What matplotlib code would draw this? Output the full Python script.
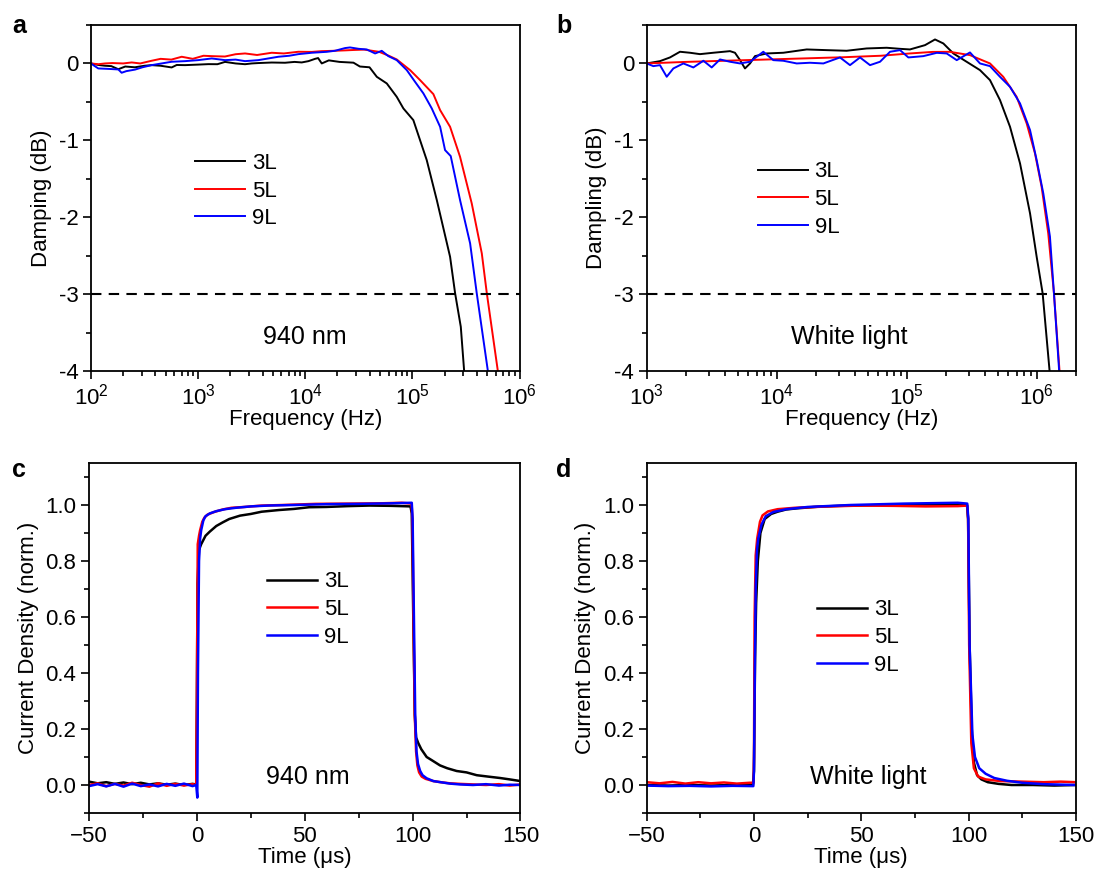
import numpy as np
import matplotlib
matplotlib.use("Agg")
import matplotlib.pyplot as plt
import matplotlib.transforms as mtransforms
from matplotlib.ticker import (MultipleLocator, FixedLocator, LogLocator,
                               LogFormatterMathtext, FuncFormatter, NullFormatter)

plt.rcParams['font.family'] = ['Liberation Sans', 'DejaVu Sans']
plt.rcParams['mathtext.fontset'] = 'custom'
plt.rcParams['mathtext.rm'] = 'Liberation Sans'
plt.rcParams['mathtext.it'] = 'Liberation Sans:italic'
plt.rcParams['mathtext.bf'] = 'Liberation Sans:bold'

# ---------------- data ----------------
series_labels = ["3L", "5L", "9L"]
series_colors = ["#000000", "#ff0000", "#0000ff"]

# Panel a: 940 nm, log10(frequency / Hz) and damping (dB)
a_3L_logf = [2.0, 2.07, 2.13, 2.19, 2.255, 2.32, 2.41, 2.5, 2.566, 2.65, 2.753, 2.8, 2.878, 3.0,
             3.096, 3.18, 3.251, 3.35, 3.438, 3.5, 3.562, 3.687, 3.811, 3.9, 3.967, 4.03, 4.092,
             4.12, 4.154, 4.22, 4.32, 4.45, 4.51, 4.6, 4.668, 4.761, 4.854, 4.916, 5.009, 5.134,
             5.228, 5.352, 5.399, 5.452, 5.486]
a_3L_db = [0.0, -0.02, -0.03, -0.035, -0.075, -0.04, -0.05, -0.03, -0.022, -0.03, -0.052, -0.02,
           -0.022, -0.015, -0.009, -0.01, 0.02, 0.0, -0.01, 0.0, 0.005, 0.012, 0.009, 0.02,
           0.013, 0.03, 0.06, 0.07, 0.0, 0.04, 0.02, 0.01, -0.04, -0.05, -0.174, -0.26, -0.434,
           -0.585, -0.737, -1.257, -1.777, -2.515, -2.99, -3.425, -4.05]

a_5L_logf = [2.0, 2.068, 2.131, 2.2, 2.3, 2.38, 2.46, 2.566, 2.65, 2.75, 2.847, 2.95, 3.05, 3.127,
             3.25, 3.35, 3.438, 3.55, 3.687, 3.8, 3.936, 4.061, 4.154, 4.278, 4.372, 4.45, 4.55,
             4.69, 4.78, 4.854, 4.979, 5.072, 5.196, 5.259, 5.352, 5.445, 5.554, 5.648, 5.695,
             5.803]
a_5L_db = [0.0, -0.01, 0.0, 0.005, 0.0, 0.013, 0.0, 0.035, 0.06, 0.05, 0.087, 0.06, 0.1, 0.095,
           0.09, 0.12, 0.13, 0.11, 0.139, 0.13, 0.152, 0.15, 0.16, 0.165, 0.17, 0.175, 0.18,
           0.151, 0.1, 0.052, -0.087, -0.217, -0.399, -0.607, -0.824, -1.214, -1.82, -2.47,
           -2.99, -4.05]

a_9L_logf = [2.0, 2.03, 2.068, 2.15, 2.255, 2.286, 2.33, 2.411, 2.48, 2.566, 2.66, 2.753, 2.878,
             3.0, 3.127, 3.251, 3.35, 3.438, 3.562, 3.749, 3.85, 3.936, 4.0, 4.061, 4.2, 4.278,
             4.372, 4.418, 4.5, 4.574, 4.652, 4.714, 4.776, 4.854, 4.948, 5.025, 5.103, 5.181,
             5.259, 5.305, 5.358, 5.445, 5.539, 5.601, 5.71]
a_9L_db = [0.0, -0.03, -0.065, -0.07, -0.078, -0.121, -0.1, -0.08, -0.05, -0.022, 0.0, 0.022, 0.03,
           0.043, 0.065, 0.043, 0.05, 0.03, 0.043, 0.087, 0.1, 0.121, 0.13, 0.139, 0.151, 0.165,
           0.2, 0.208, 0.19, 0.182, 0.13, 0.164, 0.095, 0.043, -0.087, -0.239, -0.39, -0.585,
           -0.824, -1.127, -1.205, -1.777, -2.34, -2.99, -4.05]

# Panel b: white light
b_3L_logf = [3.0, 3.102, 3.179, 3.256, 3.333, 3.41, 3.512, 3.641, 3.679, 3.718, 3.756, 3.795,
             3.833, 3.923, 4.051, 4.231, 4.385, 4.538, 4.692, 4.846, 4.95, 5.025, 5.141, 5.218,
             5.282, 5.359, 5.462, 5.564, 5.641, 5.718, 5.795, 5.872, 5.949, 6.0, 6.046, 6.102]
b_3L_db = [0.0, 0.03, 0.078, 0.152, 0.139, 0.121, 0.139, 0.16, 0.139, 0.043, -0.065, 0.0, 0.095,
           0.13, 0.139, 0.182, 0.173, 0.165, 0.195, 0.204, 0.19, 0.182, 0.238, 0.312, 0.26, 0.13,
           0.021, -0.087, -0.217, -0.477, -0.824, -1.3, -1.95, -2.515, -2.99, -4.05]

b_5L_logf = [3.0, 3.3, 3.6, 3.9, 4.2, 4.5, 4.8, 5.025, 5.2, 5.333, 5.487, 5.641, 5.743, 5.846,
             5.923, 5.987, 6.038, 6.089, 6.133, 6.178]
b_5L_db = [0.0, 0.02, 0.035, 0.05, 0.065, 0.08, 0.1, 0.13, 0.15, 0.151, 0.108, 0.0, -0.174,
           -0.434, -0.78, -1.17, -1.605, -2.21, -2.99, -4.05]

b_9L_logf = [3.0, 3.051, 3.102, 3.154, 3.205, 3.282, 3.359, 3.436, 3.5, 3.564, 3.641, 3.718,
             3.795, 3.897, 3.974, 4.051, 4.154, 4.256, 4.359, 4.487, 4.564, 4.641, 4.718, 4.795,
             4.872, 4.949, 5.013, 5.128, 5.231, 5.308, 5.385, 5.487, 5.564, 5.641, 5.718, 5.795,
             5.872, 5.949, 6.0, 6.051, 6.102, 6.133, 6.175]
b_9L_db = [0.0, -0.035, -0.022, -0.173, -0.065, 0.0, -0.052, 0.035, -0.052, 0.052, 0.022, 0.0,
           0.022, 0.152, 0.043, 0.035, 0.0, 0.009, 0.0, 0.078, -0.022, 0.078, -0.022, 0.022,
           0.152, 0.173, 0.078, 0.095, 0.138, 0.13, 0.043, 0.143, 0.0, -0.035, -0.174, -0.304,
           -0.52, -0.867, -1.257, -1.69, -2.25, -2.99, -4.05]

# Panel c: 940 nm transient, time (us) and normalized current density
c_3L_t = [-50, -46, -42, -38, -34, -30, -26, -22, -18, -14, -10, -6, -2, -0.3, 0.0, 0.3, 1.0,
          2.0, 3.0, 4.0, 6.0, 9.0, 12, 15, 20, 25, 30, 38, 45, 52, 60, 70, 80, 90, 99.0, 99.6,
          100.3, 101.0, 101.6, 102.6, 104, 106.5, 109, 112.7, 116, 120.4, 125, 129.7, 135,
          140.5, 145, 150]
c_3L_y = [0.012, 0.006, 0.01, 0.004, 0.009, 0.003, 0.008, 0.002, 0.006, 0.001, 0.005, 0.0,
          0.004, 0.002, 0.3, 0.72, 0.84, 0.86, 0.875, 0.89, 0.905, 0.925, 0.938, 0.95, 0.962,
          0.968, 0.976, 0.982, 0.986, 0.992, 0.993, 0.996, 0.998, 0.997, 0.995, 0.97, 0.6,
          0.25, 0.17, 0.15, 0.128, 0.1, 0.088, 0.07, 0.06, 0.05, 0.045, 0.035, 0.03, 0.025,
          0.02, 0.014]

c_5L_t = [-50, -46, -42, -38, -34, -30, -26, -22, -18, -14, -10, -6, -2, -0.3, 0.0, 0.4, 1.0,
          1.5, 2.5, 3.5, 5, 8, 12, 16, 22, 30, 40, 55, 70, 85, 95, 99.5, 99.9, 100.4, 101.0,
          101.6, 102.2, 103, 104.2, 106, 109.6, 113, 117.3, 122, 128, 134, 140, 145, 150]
c_5L_y = [0.0, 0.006, -0.004, 0.004, -0.002, 0.008, 0.0, -0.006, 0.006, -0.003, 0.004, -0.002,
          0.003, 0.0, 0.3, 0.86, 0.89, 0.91, 0.94, 0.955, 0.966, 0.975, 0.984, 0.99, 0.993,
          0.998, 1.0, 1.004, 1.005, 1.006, 1.008, 1.005, 0.95, 0.6, 0.25, 0.12, 0.07, 0.045,
          0.03, 0.022, 0.014, 0.01, 0.006, 0.004, 0.002, 0.0, 0.003, -0.002, 0.002]

c_9L_t = [-50, -46, -42, -38, -34, -30, -26, -22, -18, -14, -10, -6, -2, -0.3, 0.2, 0.5, 1.0,
          1.5, 2.0, 3.0, 4.0, 6.0, 9.0, 13, 18, 25, 33, 45, 60, 75, 90, 99.6, 100.0, 100.6,
          101.2, 101.8, 102.5, 103.5, 104.6, 106.5, 109.6, 113, 117.3, 122, 128, 134, 140, 145,
          150]
c_9L_y = [-0.004, 0.003, -0.005, 0.004, -0.006, 0.005, -0.004, 0.002, -0.005, 0.004, -0.003,
          0.005, -0.004, 0.0, -0.045, 0.4, 0.8, 0.88, 0.91, 0.945, 0.96, 0.97, 0.978, 0.985,
          0.99, 0.995, 0.998, 1.0, 1.003, 1.004, 1.006, 1.008, 0.95, 0.6, 0.25, 0.12, 0.075,
          0.05, 0.035, 0.024, 0.014, 0.01, 0.005, 0.002, 0.0, 0.003, -0.002, 0.001, 0.0]

# Panel d: white light transient
d_3L_t = [-50, -40, -30, -20, -10, -0.5, 0.0, 0.5, 1.0, 1.8, 3.0, 5.0, 8.0, 11, 15, 20, 30, 40,
          60, 80, 99.3, 99.8, 100.5, 101.5, 102.5, 104, 106, 109, 114, 120, 130, 140, 150]
d_3L_y = [0.0, -0.002, 0.0, -0.002, 0.0, 0.0, 0.05, 0.45, 0.65, 0.8, 0.9, 0.95, 0.968, 0.976,
          0.984, 0.988, 0.994, 0.997, 1.0, 1.002, 1.0, 0.95, 0.5, 0.2, 0.08, 0.035, 0.02, 0.01,
          0.004, 0.0, 0.0, -0.002, 0.0]

d_5L_t = [-50, -44, -38, -32, -26, -20, -14, -8, -2, -0.2, 0.0, 0.3, 0.8, 1.5, 2.8, 4.0, 6.5,
          11, 19, 35, 50, 65, 80, 95, 99.4, 99.8, 100.3, 101.3, 102.5, 104.5, 108, 115, 125,
          135, 143, 150]
d_5L_y = [0.01, 0.006, 0.011, 0.005, 0.01, 0.006, 0.009, 0.005, 0.008, 0.008, 0.1, 0.6, 0.82,
          0.88, 0.94, 0.963, 0.977, 0.985, 0.99, 0.995, 0.998, 0.997, 0.995, 0.996, 0.998,
          0.95, 0.5, 0.15, 0.06, 0.03, 0.02, 0.014, 0.012, 0.01, 0.012, 0.01]

d_9L_t = [-50, -40, -30, -20, -10, -0.3, 0.0, 0.4, 0.8, 1.4, 2.0, 3.5, 5.5, 9, 15, 25, 45, 70,
          95, 99.4, 99.9, 100.5, 101.8, 103, 105, 108, 112, 118, 125, 135, 150]
d_9L_y = [-0.002, -0.004, -0.003, -0.005, -0.003, -0.004, 0.05, 0.4, 0.7, 0.84, 0.88, 0.93,
          0.96, 0.975, 0.985, 0.993, 1.0, 1.005, 1.008, 1.005, 0.95, 0.5, 0.18, 0.1, 0.06,
          0.04, 0.025, 0.015, 0.008, 0.003, 0.0]

# ---------------- figure ----------------
W, H = 1099, 875
fig = plt.figure(figsize=(W / 100, H / 100), dpi=100)

def ax_at(l, r, t, b):
    return fig.add_axes([l / W, 1 - b / H, (r - l) / W, (b - t) / H])

axA = ax_at(91, 519.5, 25, 371)
axB = ax_at(646.7, 1075.8, 25, 371)
axC = ax_at(89, 520.5, 463, 813)
axD = ax_at(646.7, 1075.8, 463, 813)

FS = 16
LW = 1.4

def style(ax):
    for s in ax.spines.values():
        s.set_linewidth(1.3)
    ax.tick_params(which='both', direction='out', top=False, right=False,
                   labelsize=FS, width=1.2, pad=3)
    ax.tick_params(which='major', length=6)
    ax.tick_params(which='minor', length=3.5)

def legend(ax, x, y):
    ax.legend(loc='center left', bbox_to_anchor=(x, y), frameon=False,
              fontsize=FS, handlelength=2.25, handletextpad=0.3, labelspacing=0.3,
              borderpad=0, borderaxespad=0)

hy = FuncFormatter(lambda v, p: "%d" % v)

def freq_panel(ax, data, xlim, ylabel, note, note_x, leg_x, leg_y):
    for (lf, db), lab, col in zip(data, series_labels, series_colors):
        ax.plot(10 ** np.asarray(lf), db, color=col, lw=LW, label=lab)
    ax.axhline(-3, color='black', lw=1.5, dashes=(5, 3.5))
    ax.set_xscale('log')
    ax.set_xlim(*xlim)
    ax.set_ylim(-4, 0.5)
    ax.xaxis.set_major_locator(LogLocator(base=10, numticks=10))
    ax.xaxis.set_minor_locator(LogLocator(base=10, subs=np.arange(2, 10), numticks=20))
    ax.xaxis.set_major_formatter(LogFormatterMathtext())
    ax.xaxis.set_minor_formatter(NullFormatter())
    ax.yaxis.set_major_locator(FixedLocator([-4, -3, -2, -1, 0]))
    ax.yaxis.set_minor_locator(MultipleLocator(0.5))
    ax.yaxis.set_major_formatter(hy)
    style(ax)
    ax.set_xlabel("Frequency (Hz)", fontsize=FS, labelpad=0)
    ax.set_ylabel(ylabel, fontsize=FS, labelpad=5)
    ax.text(note_x, -3.56, note, fontsize=18, ha='center', va='center',
            transform=mtransforms.blended_transform_factory(ax.transAxes, ax.transData))
    legend(ax, leg_x, leg_y)

def time_panel(ax, data, note, note_x, leg_x, leg_y):
    for (t, y), lab, col in zip(data, series_labels, series_colors):
        ax.plot(t, y, color=col, lw=1.8, label=lab)
    ax.set_xlim(-50, 150)
    ax.set_ylim(-0.1, 1.15)
    ax.xaxis.set_major_locator(MultipleLocator(50))
    ax.xaxis.set_minor_locator(MultipleLocator(25))
    ax.yaxis.set_major_locator(FixedLocator([0.0, 0.2, 0.4, 0.6, 0.8, 1.0]))
    ax.yaxis.set_minor_locator(FixedLocator([-0.1, 0.1, 0.3, 0.5, 0.7, 0.9, 1.1]))
    ax.yaxis.set_major_formatter(FuncFormatter(lambda v, p: "%.1f" % v))
    ax.xaxis.set_major_formatter(FuncFormatter(lambda v, p: ("%d" % v).replace("-", "\u2212")))
    style(ax)
    ax.set_xlabel("Time (\u03bcs)", fontsize=FS, labelpad=0)
    ax.set_ylabel("Current Density (norm.)", fontsize=FS, labelpad=5)
    ax.text(note_x, 0.03, note, fontsize=18, ha='center', va='center',
            transform=mtransforms.blended_transform_factory(ax.transAxes, ax.transData))
    legend(ax, leg_x, leg_y)

freq_panel(axA, [(a_3L_logf, a_3L_db), (a_5L_logf, a_5L_db), (a_9L_logf, a_9L_db)],
           (1e2, 1e6), "Damping (dB)", "940 nm", 0.50, 0.243, (-1.66 + 4) / 4.5)
freq_panel(axB, [(b_3L_logf, b_3L_db), (b_5L_logf, b_5L_db), (b_9L_logf, b_9L_db)],
           (1e3, 2e6), "Dampling (dB)", "White light", 0.473, 0.259, (-1.77 + 4) / 4.5)
time_panel(axC, [(c_3L_t, c_3L_y), (c_5L_t, c_5L_y), (c_9L_t, c_9L_y)],
           "940 nm", 0.507, 0.413, (0.6265 + 0.1) / 1.25)
time_panel(axD, [(d_3L_t, d_3L_y), (d_5L_t, d_5L_y), (d_9L_t, d_9L_y)],
           "White light", 0.517, 0.397, (0.5265 + 0.1) / 1.25)

for lab, x, y in [("a", 12, 33), ("b", 556, 33), ("c", 12, 477), ("d", 556, 477)]:
    fig.text(x / W, 1 - y / H, lab, fontsize=18, fontweight='bold', ha='left', va='baseline')

fig.savefig("out.png", dpi=100)
